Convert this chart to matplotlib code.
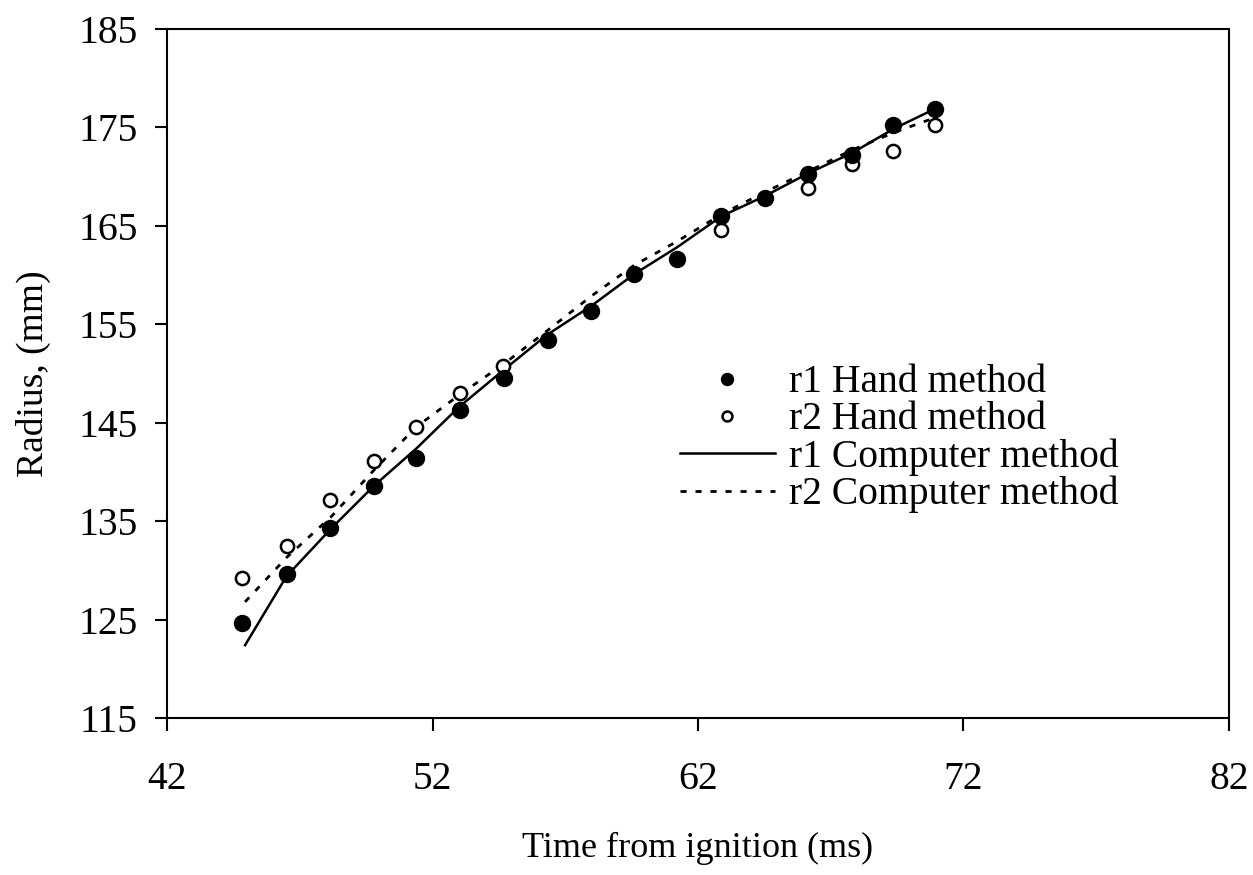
import matplotlib
matplotlib.use('Agg')
import matplotlib.pyplot as plt

plt.rcParams['font.family'] = ['Liberation Serif', 'DejaVu Serif']

# r1 / r2 hand measurements (time in ms, radius in mm)
t_r1 = [44.83, 46.53, 48.15, 49.81, 51.36, 53.02, 54.68, 56.34, 57.96, 59.58,
        61.21, 62.87, 64.53, 66.15, 67.81, 69.36, 70.94]
r1_hand = [124.7, 129.6, 134.3, 138.6, 141.4, 146.3, 149.5, 153.4, 156.3, 160.1,
           161.6, 166.0, 167.8, 170.3, 172.2, 175.2, 176.9]

t_r2 = [44.83, 46.53, 48.15, 49.81, 51.36, 53.02, 54.64, 62.87, 66.15, 67.81,
        69.36, 70.94]
r2_hand = [129.2, 132.5, 137.1, 141.1, 144.6, 148.0, 150.8, 164.6, 168.8, 171.3,
           172.6, 175.2]

# computer method curves
t_comp = [44.94, 46.5, 48.2, 49.8, 51.4, 53.0, 54.7, 56.3, 58.0, 59.6, 61.2,
          62.9, 64.5, 66.2, 67.8, 69.4, 70.94]
r1_comp = [122.4, 129.4, 134.3, 138.6, 142.4, 146.6, 150.4, 153.9, 156.9, 160.1,
           162.8, 166.0, 168.0, 170.4, 172.4, 174.9, 176.9]
r2_comp = [126.8, 131.3, 135.5, 140.2, 144.6, 147.8, 151.0, 154.3, 157.9, 161.0,
           163.4, 166.2, 168.4, 170.6, 172.7, 174.5, 176.0]

fig = plt.figure(figsize=(12.53, 8.75), dpi=100)
ax = fig.add_axes([0.1333, 0.1794, 0.8475, 0.7875])

ax.plot(t_r1, r1_hand, 'o', color='black', ms=11.5, label='r1 Hand method', zorder=4)
ax.plot(t_r2, r2_hand, 'o', mfc='white', mec='black', mew=1.8, ms=9.5,
        label='r2 Hand method', zorder=3)
ax.plot(t_comp, r1_comp, '-', color='black', lw=1.8, label='r1 Computer method', zorder=2)
ax.plot(t_comp, r2_comp, color='black', lw=2.0, ls=(0, (2.2, 3.2)),
        label='r2 Computer method', zorder=2)

ax.set_xlim(42, 82)
ax.set_ylim(115, 185)
ax.set_xticks([42, 52, 62, 72, 82])
ax.set_yticks([115, 125, 135, 145, 155, 165, 175, 185])
ax.tick_params(direction='out', length=9, width=1.5, labelsize=28.5)
ax.tick_params(axis='x', pad=22)
ax.tick_params(axis='y', pad=12)
for s in ax.spines.values():
    s.set_linewidth(1.5)

ax.set_xlabel('Time from ignition (ms)', fontsize=26, labelpad=24)
ax.set_ylabel('Radius, (mm)', fontsize=27, labelpad=20)

ax.legend(loc='center left', bbox_to_anchor=(0.468, 0.405), frameon=False,
          fontsize=28.5, handlelength=2.4, handletextpad=0.35, labelspacing=0.0,
          markerscale=0.75, borderaxespad=0)

fig.savefig('out.png', dpi=100)
